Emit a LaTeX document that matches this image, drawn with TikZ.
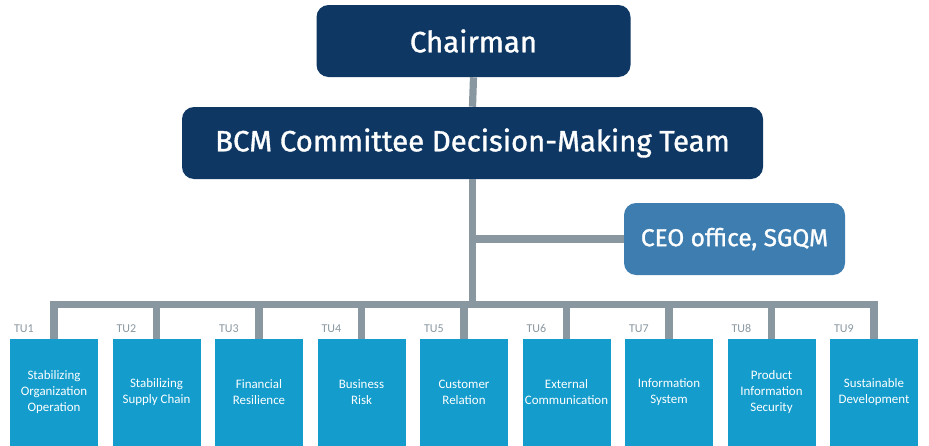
\documentclass[tikz,border=0pt]{standalone}
\usepackage{fontspec}
\setmainfont{Fira Sans}
\newfontfamily\headfont[FakeBold=1.2]{Fira Sans}
\newfontfamily\unitfont{Carlito}
\usepackage{tikz}
\definecolor{cnavy}{HTML}{0E3764}
\definecolor{cceo}{HTML}{3D7DB0}
\definecolor{cunit}{HTML}{139CCC}
\definecolor{cline}{HTML}{8997A0}
\tikzset{
  headbox/.style={fill=cnavy,text=white,rounded corners=9pt,inner sep=0pt,font=\headfont\fontsize{22}{26}\selectfont},
  ceobox/.style={fill=cceo,text=white,rounded corners=9pt,inner sep=0pt,font=\headfont\fontsize{18.3}{22}\selectfont},
  unitbox/.style={fill=cunit,text=white,inner sep=0pt,minimum width=66pt,minimum height=80.25pt,
    align=center,font=\unitfont\fontsize{9.7}{12}\selectfont},
  tulabel/.style={text=cline,inner sep=0pt,anchor=south west,font=\unitfont\fontsize{9}{10}\selectfont},
  conn/.style={draw=cline,line width=5.4pt,line join=miter}
}

\begin{document}
\begin{tikzpicture}[x=0.75pt,y=-0.75pt]
  \useasboundingbox (0,0) rectangle (929,446);
  \node[headbox,minimum width=235.5pt,minimum height=54pt] (chair) at (473.5,41) {Chairman};
  \node[headbox,minimum width=435.75pt,minimum height=54pt] (bcm) at (472.5,143) {BCM Committee Decision-Making Team};
  \node[ceobox,minimum width=165.75pt,minimum height=54pt] (ceo) at (734.5,239) {CEO office, SGQM};
  % task units
  \foreach \i/\txt in {1/{Stabilizing\\Organization\\Operation},2/{Stabilizing\\Supply Chain},
      3/{Financial\\Resilience},4/{Business\\Risk},5/{Customer\\Relation},
      6/{External\\Communication},7/{Information\\System},8/{Product\\Information\\Security},
      9/{Sustainable\\Development}}{
    \node[unitbox] (u\i) at ({54+102.5*(\i-1)},392.5) {\txt};
    \node[tulabel] (tu\i) at ([xshift=3pt,yshift=4.5pt]u\i.north west) {TU\i};
  }
  \coordinate (bus) at (0,304.5);
  % connectors
  \draw[conn] (chair.south) -- (bcm.north);
  \draw[conn] (bcm.south) -- (bcm.south |- bus);
  \draw[conn] (ceo.west) -- (ceo.west -| bcm.south);
  \draw[conn] (u1.north) -- (u1.north |- bus) -- (u9.north |- bus) -- (u9.north);
  \foreach \i in {2,...,8}
    \draw[conn] (u\i.north) -- (u\i.north |- bus);
\end{tikzpicture}
\end{document}
